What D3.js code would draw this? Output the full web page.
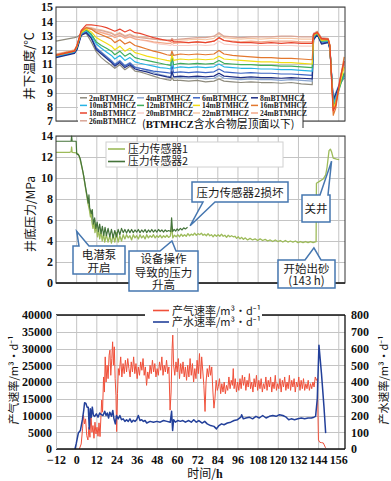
<!DOCTYPE html>
<html><head><meta charset="utf-8">
<script src="https://cdn.jsdelivr.net/npm/d3@7"></script>
<style>body{margin:0;background:#fff}svg{display:block}</style>
</head><body><svg id="c" width="391" height="481"></svg>
<script>
// ---------------- DATA ----------------
const xTicks = [-12,0,12,24,36,48,60,72,84,96,108,120,132,144,156];
const tempTicks = [7,8,9,10,11,12,13,14,15];
const pressTicks = [0,2,4,6,8,10,12,14];
const gasTicks = [0,5000,10000,15000,20000,25000,30000,35000,40000];
const waterTicks = [0,100,200,300,400,500,600,700,800];

const tempNames = ["2mBTMHCZ","4mBTMHCZ","6mBTMHCZ","8mBTMHCZ","10mBTMHCZ","12mBTMHCZ","14mBTMHCZ","16mBTMHCZ","18mBTMHCZ","20mBTMHCZ","22mBTMHCZ","24mBTMHCZ","26mBTMHCZ"];
const tempHours = [-12,-1,0.5, 3,6,9,12,15,18,21, 23,26,29,32,35,38,42,46,50,54, 56.3,57,58, 62,67,72,77,82,85,88,93, 98,104,110,116,122,128,134, 140.5,141.3,143.5,146,150,151,153,154.5,157,159.5];
const t2 = [12.6,12.85,12.9, 13.1,13.15,12.55,11.85,11.45,11.15,10.9, 10.7,10.95,10.6,10.85,10.5,10.45,10.3,10.15,10.0,9.9, 9.85,10.05,9.85, 9.85,9.8,9.85,9.75,9.8,9.95,9.8,9.75, 9.7,9.75,9.7,9.7,9.65,9.7,9.6, 9.55,12.9,13.15,12.7,12.6,12.2,8.4,8.8,9.6,10.0];
const t4 = [11.5,11.8,12.1, 13.05,13.3,12.85,12.15,11.85,11.55,11.25, 11.0,11.25,10.9,11.1,10.8,10.7,10.55,10.4,10.25,10.15, 10.1,10.4,10.1, 10.05,10.0,10.05,9.95,10.0,10.2,10.0,9.95, 9.9,9.95,9.9,9.9,9.85,9.9,9.85, 9.8,12.8,13.1,12.5,12.55,12.1,8.6,9.0,9.7,10.1];
const t6 = [11.5,11.8,12.1, 13.1,13.25,12.85,12.1,11.8,11.5,11.2, 10.95,11.2,10.85,11.05,10.75,10.7,10.6,10.5,10.45,10.4, 10.35,10.9,10.4, 10.45,10.4,10.45,10.4,10.45,10.65,10.45,10.4, 10.35,10.4,10.35,10.35,10.3,10.3,10.25, 10.2,12.75,13.1,12.45,12.55,12.1,8.3,8.8,9.7,10.3];
const t8 = [11.45,11.75,12.0, 13.0,13.2,12.8,12.0,11.7,11.4,11.1, 10.85,11.1,10.75,10.95,10.65,10.55,10.45,10.3,10.2,10.1, 10.05,10.5,10.1, 10.15,10.1,10.15,10.1,10.15,10.35,10.15,10.1, 10.05,10.1,10.05,10.05,10.0,10.05,10.0, 9.95,12.7,13.05,12.4,12.5,12.0,8.5,8.9,9.6,10.2];
const t10 = [11.55,11.85,12.2, 13.15,13.35,13.0,12.4,12.1,11.85,11.6, 11.35,11.6,11.25,11.45,11.15,11.05,10.95,10.85,10.75,10.7, 10.65,11.8,10.7, 10.8,10.75,10.8,10.75,10.8,11.0,10.8,10.75, 10.7,10.7,10.65,10.65,10.6,10.6,10.55, 10.5,12.9,13.15,12.6,12.6,12.2,8.2,8.6,9.5,10.2];
const t12 = [11.6,11.9,12.2, 13.2,13.4,13.1,12.55,12.3,12.1,11.9, 11.65,11.9,11.55,11.75,11.45,11.35,11.25,11.15,11.05,10.95, 10.9,11.5,10.95, 11.05,11.0,11.05,11.0,11.05,11.25,11.05,11.0, 10.95,10.95,10.9,10.9,10.85,10.85,10.8, 10.75,12.95,13.15,12.6,12.65,12.2,8.0,8.4,9.4,10.4];
const t14 = [11.6,11.9,12.25, 13.2,13.45,13.25,12.85,12.65,12.45,12.25, 12.0,12.25,11.9,12.1,11.8,11.7,11.55,11.45,11.35,11.25, 11.2,11.65,11.25, 11.35,11.3,11.35,11.3,11.35,11.55,11.35,11.3, 11.25,11.2,11.15,11.15,11.1,11.1,11.05, 11.0,13.0,13.2,12.65,12.7,12.25,7.9,8.3,9.6,10.8];
const t16 = [11.65,11.95,12.3, 13.3,13.55,13.45,13.2,13.05,12.9,12.75, 12.5,12.7,12.4,12.55,12.3,12.2,12.05,11.9,11.8,11.65, 11.6,11.9,11.6, 11.7,11.65,11.7,11.65,11.7,11.95,11.7,11.6, 11.55,11.5,11.45,11.45,11.4,11.4,11.35, 11.3,13.05,13.25,12.7,12.75,12.3,7.4,7.9,9.8,11.5];
const t18 = [11.6,11.9,12.3, 13.35,13.75,13.75,13.7,13.65,13.55,13.4, 13.3,13.45,13.25,13.4,13.2,13.15,13.0,12.85,12.75,12.65, 12.6,12.7,12.55, 12.55,12.5,12.55,12.5,12.6,12.85,12.65,12.55, 12.5,12.5,12.45,12.5,12.45,12.5,12.45, 12.45,13.1,13.2,12.8,12.75,12.3,7.7,8.1,9.9,11.2];
const t20 = [11.55,11.85,12.2, 13.25,13.5,13.5,13.35,13.25,13.15,13.0, 12.9,13.05,12.85,12.95,12.8,12.7,12.6,12.5,12.4,12.35, 12.3,12.4,12.3, 12.3,12.3,12.35,12.3,12.35,12.6,12.4,12.35, 12.3,12.3,12.3,12.3,12.3,12.3,12.25, 12.25,13.0,13.15,12.7,12.7,12.25,7.8,8.2,9.8,11.0];
const t22 = [11.6,11.9,12.25, 13.3,13.6,13.55,13.45,13.4,13.3,13.2, 13.05,13.2,13.0,13.1,12.95,12.9,12.85,12.75,12.7,12.65, 12.65,12.75,12.65, 12.7,12.7,12.75,12.7,12.8,13.1,12.85,12.8, 12.75,12.8,12.75,12.8,12.8,12.8,12.75, 12.75,13.1,13.25,12.8,12.75,12.3,7.9,8.3,9.9,11.1];
const t24 = [11.7,12.0,12.3, 13.2,13.5,13.45,13.3,13.2,13.1,13.0, 12.85,13.0,12.8,12.9,12.75,12.7,12.65,12.55,12.5,12.45, 12.45,12.55,12.45, 12.5,12.5,12.55,12.5,12.6,12.85,12.65,12.6, 12.55,12.6,12.55,12.6,12.6,12.6,12.55, 12.55,13.05,13.2,12.75,12.7,12.25,7.8,8.2,9.8,11.0];
const t26 = [11.65,11.95,12.3, 13.25,13.55,13.5,13.4,13.35,13.25,13.15, 13.0,13.15,12.95,13.05,12.9,12.85,12.8,12.75,12.7,12.7, 12.7,12.8,12.7, 12.75,12.8,12.85,12.85,12.95,13.2,12.95,12.9, 12.85,12.9,12.9,12.9,12.95,12.95,12.9, 12.9,13.15,13.3,12.85,12.8,12.35,8.0,8.4,10.0,11.2];

const pressNames = ["压力传感器1","压力传感器2"];
const press1 = [[-12,12.45],[-4,12.45],[-3,12.5],[-2.7,12.95],[-2.4,12.45],[0,12.4],[1,12.3],[2,12.0],[3,11.3],[4,10.6],[5,9.6],[6,8.6],[7,7.6],[7.8,7.0],[8.5,6.3],[8.9,6.9],[9.3,5.9],[10,5.2],[10.6,5.9],[11.2,4.8],[12,5.4],[12.7,4.4],[13.4,5.1],[14,4.2],[14.8,4.9],[15.5,4.0],[16.3,4.7],[17,3.9],[18,4.6],[19,3.9],[20,4.5],[21,3.8],[22,4.6],[23,3.9],
 [24,4.8],[25,3.9],[26,4.5],[27,4.0],[28,4.6],[29,4.2],[30,4.6],[31,4.3],[32,4.5],[33,4.1],[34,4.6],[35,4.3],[36,4.5],[37,4.2],[38,4.6],[39,4.3],[40,4.5],[41,4.2],[42,4.6],[43,4.3],[44,4.5],[45,4.35],[46,4.6],[47,4.3],[48,4.5],[49,4.35],[50,4.55],[51,4.3],[52,4.5],[53,4.35],[54,4.55],[55,4.35],[56,4.45],[56.8,5.4],[57.5,4.3],
 [58.5,4.55],[59.5,4.4],[60.5,4.6],[61.5,4.4],[62.5,4.65],[63.5,4.45],[64.5,4.6],[65.5,4.45],[66.5,4.7],[67.5,4.5],[68.5,4.65],[69.5,4.55],[70.5,4.75],[71.5,4.55],[72.5,4.7],[73.5,4.6],[74.5,4.75],[75.5,4.55],[76.5,4.65],[77.5,4.5],[78.5,4.7],[79.5,4.5],[80.5,4.6],[81.5,4.4],[82.5,4.6],[83.5,4.45],[84.5,4.6],[85.5,4.45],[86.5,4.65],[87.5,4.45],[88.5,4.55],[89.5,4.35],[90.5,4.55],[91.5,4.4],[92.5,4.5],[93.5,4.4],[94.5,4.45],[95.5,4.25],[96.5,4.4],[97.5,4.2],[98.5,4.35],[99.5,4.15],[100.5,4.3],
 [102,4.1],[103.5,4.25],[105,4.1],[106.5,4.2],[108,4.05],[109.5,4.2],[111,4.05],[112.5,4.15],[114,4.0],[115.5,4.1],[117,3.95],[118.5,4.1],[120,3.95],[121.5,4.05],[123,3.9],[124.5,4.05],[126,3.9],[127.5,4.0],[129,3.9],[130.5,4.0],[132,3.85],[133.5,3.95],[135,3.85],[136.5,3.95],[138,3.85],[139.5,3.95],[141,3.85],[142.8,3.95],
 [143,9.5],[145,9.7],[147,9.9],[148.5,10.3],[149.3,11.0],[150.5,12.6],[151.3,12.75],[152,12.5],[153,11.9],[155,11.8],[156.5,11.75]];
const press2 = [[-12,13.5],[-3,13.5],[-2.7,14.0],[-2.4,13.5],[0,13.5],[0.3,12.3],[1.5,12.2],[2.5,11.8],[3.5,11.0],[4.5,10.2],[5.5,9.2],[6.5,8.3],[7.2,7.6],[7.6,8.4],[8.0,7.2],[9,6.6],[9.6,7.0],[10.2,5.6],[11,6.2],[11.7,5.2],[12.5,5.8],[13.2,4.9],[14,5.6],[14.8,4.7],[15.6,5.4],[16.4,4.5],[17.2,5.3],[18,4.5],[19,5.2],[20,4.4],[21,5.1],[22,4.3],[23,5.0],[24,4.4],[25,5.1],[26,4.6],[27,5.2],[28,4.8],[29,5.1],[30,4.75],[31,5.1],[32,4.8],[33,5.1],[34,4.8],[35,5.05],[36,4.85],[37,5.1],[38,4.8],[39,5.05],[40,4.85],[41,5.1],[42,4.8],[43,5.05],[44,4.85],[45,5.1],[46,4.85],[47,5.05],[48,4.85],[49,5.1],[50,4.9],[51,5.05],[52,4.85],[53,5.05],[54,4.9],[55,5.0],[56.3,4.9],[56.8,6.2],[57.4,4.9],[58.3,5.1],[59.2,4.95],[60.1,5.15],[61,5.0],[62,5.2],[63,5.05],[64,5.25],[65,5.15],[66.3,5.3]];

const rateNames = ["产气速率/m³·d⁻¹","产水速率/m³·d⁻¹"];
const gas = [[1.9,0],[3,1500],[3.8,6000],[4.3,10100],[5,7500],[5.6,9000],[6.3,4000],[7,2700],[7.6,6500],[8.2,3500],[8.8,10600],[9.4,5000],[10,7000],[10.6,3200],[11.2,8000],[11.8,4500],[12.4,6500],[13,3800],[13.6,7800],[14.2,3700],[15.2,14600],[15.7,11000],[16.3,21500],[16.8,17000],[17.3,27500],[17.8,20000],[18.4,25000],[19,21000],[19.6,28000],[20.1,29500],[20.6,22000],[21.2,27000],[21.7,32000],[22.2,25000],[22.7,30500],[23.2,21000],[23.7,16000],[24.1,5200],[24.6,16600],[25.1,24000],[25.6,22000],
 [26.5,27500],[27.2,21500],[27.9,25500],[28.6,22500],[29.3,26500],[30,23000],[30.7,27000],[31.4,24000],[32.1,21500],[32.8,26000],[33.5,23000],[34.2,27500],[34.9,22500],[35.6,25500],[36.3,21000],[37,24500],[37.7,22000],[38.4,26000],[39.1,23500],[39.8,27000],[40.5,22000],[41.2,24500],[41.9,19000],[42.6,23000],[43.3,21000],[44,25000],[44.7,22500],[45.4,26500],[46.1,23000],[46.8,25500],[47.5,21500],[48.2,24000],[48.9,22000],[49.6,26000],[50.3,23500],[51,27500],[51.7,22000],[52.4,25000],[53.1,23000],[53.8,26500],[54.5,22500],[55.2,24500],[55.9,11600],[56.5,17000],[57.1,30000],[57.5,34000],[58,25000],
 [58.7,22000],[59.4,26000],[60.1,23000],[60.8,27000],[61.5,21000],[62.2,25500],[62.9,22500],[63.6,26000],[64.3,21500],[65,24500],[65.7,20500],[66.4,25000],[67.1,21500],[67.8,27000],[68.5,22000],[69.2,25500],[69.9,20000],[70.6,24000],[71.3,21000],[72,26500],[72.7,22500],[73.4,28500],[74.1,21000],[74.7,27500],[75.4,23000],[76,19000],[76.7,11200],[77.3,20000],[78,24000],[78.7,21500],[79.4,25000],[80,22000],[80.7,24500],[81.4,17000],[82,12200],[82.6,15000],[83.3,20500],[84,17500],[84.6,18600],
 [85.3,21000],[86,16500],[86.7,19500],[87.4,17000],[88.1,20000],[88.8,16500],[89.5,19000],[90.2,17500],[90.9,21500],[91.6,18000],[92.3,20500],[93,19000],[93.5,24000],[94,18000],[94.7,21000],[95.4,17000],[96.1,20000],[96.8,17500],[97.5,21000],[98.2,18000],[98.9,22000],[99.6,19000],[100.3,21500],[101,17500],[101.7,20500],[102.4,18500],[103.1,22500],[103.8,18000],[104.5,20000],[105.2,17000],[105.9,21000],[106.6,18500],[107.3,22000],[108,17500],[108.7,20500],[109.4,18000],[110.1,21000],[110.8,17000],[111.5,19500],[112.2,18000],[112.9,21500],[113.6,17500],[114.3,20500],[115,18500],[115.7,21500],[116.4,17000],[117.1,20000],[117.8,18000],[118.5,22000],[119.2,17500],[119.9,19500],[120.6,18000],[121.3,21000],[122,17000],[122.7,20500],[123.4,18500],[124.1,21500],[124.8,17500],[125.5,20000],[126.2,18000],[126.9,22000],[127.6,17500],[128.3,20500],[129,18500],[129.7,21000],[130.4,17000],[131.1,20000],[131.8,18500],[132.5,21500],[133.2,17500],[133.9,20500],[134.6,18000],[135.3,21000],[136,17500],[136.7,19500],[137.4,18000],[138.1,20500],[138.8,17500],[139.5,19500],[140.2,18000],[140.9,20000],[141.6,18500],[142.3,21500],[143,20500],[143.5,21000],
 [144.2,2700],[145,2000],[146,1900],[147.1,1800],[148.3,500],[148.7,200]];
const water = [[-0.7,0],[0,30],[1.3,95],[2.5,110],[3.7,175],[4.5,230],[5,276],[5.8,272],[6.5,250],[7.2,250],[7.8,120],[8.4,240],[9,190],[9.6,250],[10.3,200],[11,195],[12,210],[13,190],[14,215],[15,205],[16,200],[17,225],[17.8,200],[18.5,215],[19.3,185],[20,220],[21,195],[21.8,230],[22.5,180],[23.3,150],[24,200],[25,180],[26,200],[27,175],[28,180],[29,165],[30,175],[31,165],[32,180],[33,160],[34,172],[35,165],[36,175],[37,200],[38,170],[39,175],[40,165],[41,170],[42,155],[44,165],[46,160],[48,165],[50,160],[52,170],[54,165],[56,160],[56.8,225],[57.4,110],[58,175],[59,160],[60.5,170],[62,165],[63.5,170],[65,160],[67,170],[68.5,160],[70,175],[71.5,160],[73,170],[75,155],[76.5,165],[78,150],[80,140],[82,135],[83.5,120],[85,140],[86.5,150],[88,145],[90,155],[92,160],[94,170],[96,175],[98,190],[98.5,205],[99.5,180],[101,185],[103,190],[105,180],[107,195],[109,185],[111,200],[113,185],[115,195],[117,200],[119,195],[121,205],[123,200],[125,190],[126.5,175],[128,180],[130,175],[132,180],[134,185],[136,180],[138,185],[140,185],[141.5,190],[142.5,195],[143.5,300],[144.5,620],[146,450],[147.5,250],[148.5,95]];

// ---------------- STYLE ----------------
const tempColors = ["#8e8b7e","#8aa6d0","#3b64c4","#1e2f86","#27b4e6","#3fae5a","#f2dc14","#e3782e","#e8432d","#f7cfc8","#f6c6a4","#f3a98a","#d9a596"];
const pressColors = ["#9dbb5a","#44733a"];
const rateColors = ["#f0503a","#23409a"];
const SERIF = "'Liberation Serif','Times New Roman',serif";
const CJK = "'Noto Sans CJK SC','Noto Sans',sans-serif";
const GRID = "#c4c4c4", CALL = "#4677b0";

const svg = d3.select("#c");
svg.append("rect").attr("width",391).attr("height",481).attr("fill","#fff");

const x = d3.scaleLinear().domain([-12,160]).range([56,345]);
const yT = d3.scaleLinear().domain([7,15]).range([121,7]);
const yP = d3.scaleLinear().domain([0,14]).range([283,136]);
const yG = d3.scaleLinear().domain([0,40000]).range([449,315]);
const yW = d3.scaleLinear().domain([0,800]).range([449,315]);

function grid(ys, yticks){
  const g = svg.append("g");
  const [y0,y1] = ys.range();
  g.selectAll(".v").data(xTicks.slice(1)).join("line")
    .attr("x1",d=>x(d)+0.5).attr("x2",d=>x(d)+0.5).attr("y1",y1).attr("y2",y0)
    .attr("stroke",GRID).attr("stroke-width",1);
  g.selectAll(".h").data(yticks).join("line")
    .attr("x1",x.range()[0]).attr("x2",x.range()[1]).attr("y1",d=>Math.round(ys(d))+0.5).attr("y2",d=>Math.round(ys(d))+0.5)
    .attr("stroke",GRID).attr("stroke-width",1);
}
function styleAxis(g, size){
  g.select(".domain").remove();
  g.selectAll("text").attr("font-family",SERIF).attr("font-weight","bold").attr("font-size",size||12).attr("fill","#111");
}

// ======== TOP PANEL ========
grid(yT, tempTicks);
const lineT = d3.line().x(d=>x(d[0])).y(d=>yT(d[1]));
const tempVals = [t2,t4,t6,t8,t10,t12,t14,t16,t18,t20,t22,t24,t26];
const tOrder = [9,10,11,12,0,1,2,3,4,5,6,7,8];
tOrder.forEach(i=>{
  svg.append("path").datum(tempHours.map((h,k)=>[h,tempVals[i][k]]))
    .attr("d",lineT).attr("fill","none").attr("stroke",tempColors[i]).attr("stroke-width",1.2).attr("stroke-linejoin","round");
});
svg.append("rect").attr("x",56).attr("y",7).attr("width",289).attr("height",114).attr("fill","none").attr("stroke","#333").attr("stroke-width",1);
styleAxis(svg.append("g").attr("transform","translate(56,0)").call(d3.axisLeft(yT).tickValues(tempTicks).tickSize(0).tickPadding(3)));
svg.append("text").attr("transform","translate(34,66) rotate(-90)").attr("text-anchor","middle")
  .attr("font-family",CJK).attr("font-size",12.5).attr("fill","#111").text("井下温度/℃");
// legend
svg.append("rect").attr("x",78).attr("y",93).attr("width",225).attr("height",35).attr("fill","#fff");
svg.append("line").attr("x1",78).attr("x2",303).attr("y1",93.5).attr("y2",93.5).attr("stroke","#999");
svg.append("line").attr("x1",303).attr("x2",303).attr("y1",93).attr("y2",128).attr("stroke","#333");
const colX = [80,137,193,251], rowY = [97.8,105.4,113,120.8];
tempNames.forEach((n,i)=>{
  const cx = colX[i%4], cy = rowY[Math.floor(i/4)];
  svg.append("line").attr("x1",cx).attr("x2",cx+7).attr("y1",cy).attr("y2",cy).attr("stroke",tempColors[i]).attr("stroke-width",1.5);
  svg.append("text").attr("x",cx+9).attr("y",cy+2.8).attr("font-family",SERIF).attr("font-weight","bold").attr("font-size",7.8).attr("fill","#222")
    .attr("textLength", n.length > 8 ? 47 : 45).attr("lengthAdjust","spacingAndGlyphs").text(n);
});
const note = svg.append("text").attr("x",142).attr("y",128).attr("font-family",CJK).attr("font-size",10.8).attr("fill","#111")
  .html("(<tspan font-family=\"'Liberation Serif',serif\" font-weight=\"bold\">BTMHCZ</tspan>含水合物层顶面以下)");
if (note.node().getComputedTextLength() > 156) note.attr("textLength",156).attr("lengthAdjust","spacingAndGlyphs");

// ======== MIDDLE PANEL ========
grid(yP, pressTicks);
const lineP = d3.line().x(d=>x(d[0])).y(d=>yP(d[1]));
svg.append("path").datum(press1).attr("d",lineP).attr("fill","none").attr("stroke",pressColors[0]).attr("stroke-width",1.3).attr("stroke-linejoin","round");
svg.append("path").datum(press2).attr("d",lineP).attr("fill","none").attr("stroke",pressColors[1]).attr("stroke-width",1.2).attr("stroke-linejoin","round");
svg.append("rect").attr("x",56).attr("y",136).attr("width",289).attr("height",147).attr("fill","none").attr("stroke","#333").attr("stroke-width",1);
svg.append("line").attr("x1",56).attr("x2",345).attr("y1",283).attr("y2",283).attr("stroke","#222").attr("stroke-width",1.6);
styleAxis(svg.append("g").attr("transform","translate(56,0)").call(d3.axisLeft(yP).tickValues(pressTicks).tickSize(0).tickPadding(3)));
svg.append("text").attr("transform","translate(35,214) rotate(-90)").attr("text-anchor","middle")
  .attr("font-family",CJK).attr("font-size",12).attr("fill","#111").text("井底压力/MPa");
// legend
svg.append("rect").attr("x",106).attr("y",142).attr("width",177).attr("height",25).attr("fill","#fff").attr("stroke","#d0d0d0");
[149,161.5].forEach((cy,i)=>{
  svg.append("line").attr("x1",108).attr("x2",125).attr("y1",cy).attr("y2",cy).attr("stroke",pressColors[i]).attr("stroke-width",1.6);
  svg.append("text").attr("x",128).attr("y",cy+3.8).attr("font-family",CJK).attr("font-size",10.8).attr("fill","#222").text(pressNames[i]);
});
// callouts
function callout(b, p, lines){
  let d;
  if(p.side==="top"){
    d = `M${b.x},${b.y}L${p.a},${b.y}L${p.tx},${p.ty}L${p.b},${b.y}L${b.x+b.w},${b.y}L${b.x+b.w},${b.y+b.h}L${b.x},${b.y+b.h}Z`;
  } else {
    d = `M${b.x},${b.y}L${b.x+b.w},${b.y}L${b.x+b.w},${b.y+b.h}L${p.b},${b.y+b.h}L${p.tx},${p.ty}L${p.a},${b.y+b.h}L${b.x},${b.y+b.h}Z`;
  }
  svg.append("path").attr("d",d).attr("fill","#fff").attr("stroke",CALL).attr("stroke-width",1.5).attr("stroke-linejoin","miter");
  lines.forEach(l=>{
    svg.append("text").attr("x",b.x+b.w/2).attr("y",l[1]).attr("text-anchor","middle").attr("font-family",CJK).attr("font-size",11.5).attr("fill","#1a1a1a").text(l[0]);
  });
}
callout({x:73,y:246,w:52,h:28},{side:"top",a:79,b:89,tx:x(0.3),ty:yP(4.93)},[["电潜泵",259],["开启",271.5]]);
callout({x:129,y:251,w:69,h:40},{side:"top",a:160,b:176,tx:x(57),ty:yP(4.0)},[["设备操作",263],["导致的压力",276.5],["升高",289]]);
callout({x:192,y:182,w:96,h:20},{side:"bottom",a:203,b:215,tx:x(67.8),ty:yP(5.45)},[["压力传感器2损坏",196.5]]);
callout({x:302,y:195,w:28,h:27},{side:"top",a:320,b:328,tx:x(152),ty:yP(11.6)},[["关井",213]]);
callout({x:278,y:260,w:57,h:28},{side:"top",a:305,b:321,tx:x(141.5),ty:yP(3.35)},[["开始出砂",272.5],["(143 h)",285]]);

// ======== BOTTOM PANEL ========
grid(yG, gasTicks);
const lineG = d3.line().x(d=>x(d[0])).y(d=>yG(d[1]));
const lineW = d3.line().x(d=>x(d[0])).y(d=>yW(d[1]));
svg.append("path").datum(gas).attr("d",lineG).attr("fill","none").attr("stroke",rateColors[0]).attr("stroke-width",1).attr("stroke-linejoin","round");
svg.append("path").datum(water).attr("d",lineW).attr("fill","none").attr("stroke",rateColors[1]).attr("stroke-width",1.5).attr("stroke-linejoin","round");
svg.append("line").attr("x1",56).attr("x2",345).attr("y1",315).attr("y2",315).attr("stroke","#111").attr("stroke-width",1.3);
svg.append("line").attr("x1",345).attr("x2",345).attr("y1",315).attr("y2",449).attr("stroke","#111").attr("stroke-width",1.3);
svg.append("line").attr("x1",56).attr("x2",345).attr("y1",449).attr("y2",449).attr("stroke","#111").attr("stroke-width",1.5);
svg.append("line").attr("x1",56.5).attr("x2",56.5).attr("y1",315).attr("y2",449).attr("stroke",GRID);
styleAxis(svg.append("g").attr("transform","translate(56,0)").call(d3.axisLeft(yG).tickValues(gasTicks).tickFormat(d3.format("d")).tickSize(0).tickPadding(4)));
styleAxis(svg.append("g").attr("transform","translate(345,0)").call(d3.axisRight(yW).tickValues(waterTicks).tickSize(0).tickPadding(6)));
styleAxis(svg.append("g").attr("transform","translate(0,449)").call(d3.axisBottom(x).tickValues(xTicks).tickSize(0).tickPadding(6)));
svg.append("text").attr("transform","translate(18,380) rotate(-90)").attr("text-anchor","middle")
  .attr("font-family",CJK).attr("font-size",11).attr("fill","#111").text(rateNames[0]);
svg.append("text").attr("transform","translate(388,380) rotate(-90)").attr("text-anchor","middle")
  .attr("font-family",CJK).attr("font-size",11).attr("fill","#111").text(rateNames[1]);
svg.append("text").attr("x",205).attr("y",478).attr("text-anchor","middle").attr("font-family",CJK).attr("font-size",12).attr("fill","#111")
  .html("时间/<tspan font-family=\"'Liberation Serif',serif\" font-weight=\"bold\">h</tspan>");
// legend
svg.append("rect").attr("x",145).attr("y",300).attr("width",117).attr("height",28).attr("fill","#fff");
[310.5,322].forEach((cy,i)=>{
  svg.append("line").attr("x1",153).attr("x2",169).attr("y1",cy).attr("y2",cy).attr("stroke",rateColors[i]).attr("stroke-width",1.6);
  svg.append("text").attr("x",172).attr("y",cy+4).attr("font-family",CJK).attr("font-size",11).attr("fill","#222").text(rateNames[i]);
});
</script></body></html>
